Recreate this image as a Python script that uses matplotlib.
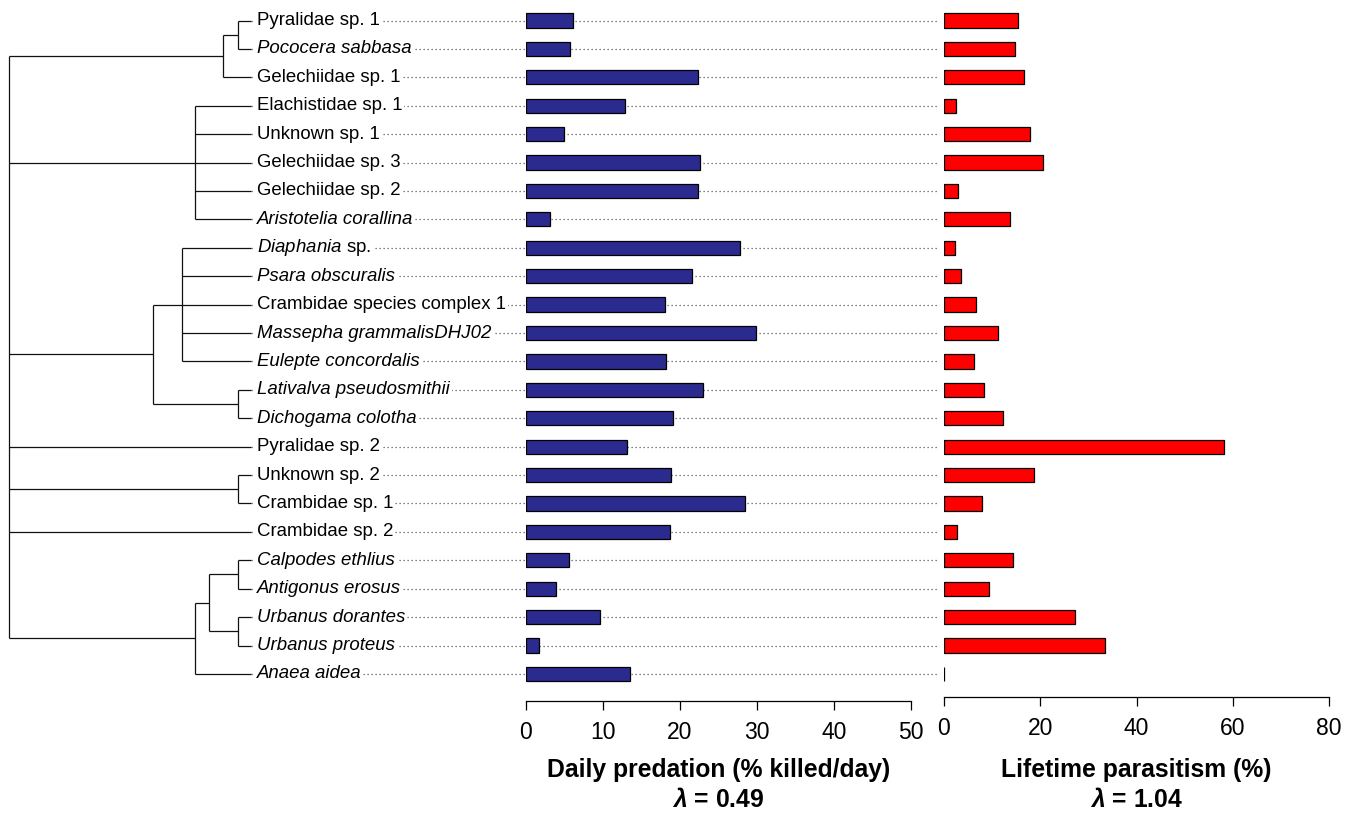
import matplotlib
matplotlib.use("Agg")
import matplotlib.pyplot as plt
import matplotlib.transforms as mtransforms

plt.rcParams['font.family'] = ['Liberation Sans', 'DejaVu Sans']
plt.rcParams['mathtext.fontset'] = 'custom'
plt.rcParams['mathtext.rm'] = 'Liberation Sans'
plt.rcParams['mathtext.it'] = 'Liberation Sans:italic'
plt.rcParams['mathtext.bf'] = 'Liberation Sans:bold'
plt.rcParams['mathtext.bfit'] = 'Liberation Sans:italic:bold'

# species in plotting order (top to bottom)
species = [
    "Pyralidae sp. 1", "Pococera sabbasa", "Gelechiidae sp. 1",
    "Elachistidae sp. 1", "Unknown sp. 1", "Gelechiidae sp. 3",
    "Gelechiidae sp. 2", "Aristotelia corallina", r"$\mathit{Diaphania}$ sp.",
    "Psara obscuralis", "Crambidae species complex 1", "Massepha grammalisDHJ02",
    "Eulepte concordalis", "Lativalva pseudosmithii", "Dichogama colotha",
    "Pyralidae sp. 2", "Unknown sp. 2", "Crambidae sp. 1", "Crambidae sp. 2",
    "Calpodes ethlius", "Antigonus erosus", "Urbanus dorantes",
    "Urbanus proteus", "Anaea aidea",
]
italic = [False, True, False, False, False, False, False, True, False,
          True, False, True, True, True, True, False, False, False, False,
          True, True, True, True, True]

predation = [6.1, 5.7, 22.3, 12.9, 5.0, 22.6, 22.4, 3.1, 27.8, 21.5, 18.0,
             29.9, 18.2, 23.0, 19.1, 13.2, 18.9, 28.4, 18.7, 5.6, 3.9, 9.6,
             1.7, 13.5]
parasitism = [15.4, 14.8, 16.7, 2.5, 17.9, 20.6, 3.0, 13.8, 2.3, 3.5, 6.7,
              11.2, 6.3, 8.4, 12.2, 58.1, 18.8, 7.8, 2.8, 14.3, 9.4, 27.3,
              33.4, 0.0]

pred_ticks = [0, 10, 20, 30, 40, 50]
para_ticks = [0, 20, 40, 60, 80]
pred_lambda = "0.49"
para_lambda = "1.04"

# tree: (node depth, children); ints are tips (row index), root depth 0, tips 1
tree = (0.0, [
    (0.883, [(0.945, [0, 1]), 2]),
    (0.768, [3, 4, 5, 6, 7]),
    (0.596, [(0.713, [8, 9, 10, 11, 12]), (0.945, [13, 14])]),
    15,
    (0.945, [16, 17]),
    18,
    (0.768, [(0.827, [(0.945, [19, 20]), (0.945, [21, 22])]), 23]),
])

W, H = 1354, 815
fig = plt.figure(figsize=(W / 100, H / 100), dpi=100)

row_top, row_step = 20.5, 28.41
ax_bottom_px = 701
ylim = ((ax_bottom_px - row_top) / row_step, -row_top / row_step)
bottom = 1 - ax_bottom_px / H
height = ax_bottom_px / H

# tree axes spans the full width; x in tree-depth units
root_px, tip_px = 9.3, 251.0
scale = tip_px - root_px
ax_t = fig.add_axes([0, bottom, 1, height])
ax_t.set_xlim(-root_px / scale, (W - root_px) / scale)
ax_t.set_ylim(*ylim)
ax_t.axis('off')

tree_kw = dict(color='#111111', lw=0.9, solid_capstyle='butt', zorder=2)


def draw(node, parent_depth):
    if isinstance(node, int):
        ax_t.plot([parent_depth, 1.0], [node, node], **tree_kw)
        return node
    depth, kids = node
    ys = [draw(k, depth) for k in kids]
    y = (ys[0] + ys[-1]) / 2
    ax_t.plot([depth, depth], [ys[0], ys[-1]], **tree_kw)
    if parent_depth is not None:
        ax_t.plot([parent_depth, depth], [y, y], **tree_kw)
    return y


draw(tree, None)

lead_end = (937 - root_px) / scale
for i, (name, it) in enumerate(zip(species, italic)):
    ax_t.plot([1.0, lead_end], [i, i], color='0.35', lw=0.9,
              ls=(0, (1, 2.2)), zorder=1)
    ax_t.annotate(name, xy=(1.0, i), xytext=(4, 0), textcoords='offset points',
                  ha='left', va='center', fontsize=13.4,
                  fontstyle='italic' if it else 'normal', zorder=3,
                  bbox=dict(boxstyle='square,pad=0.12', fc='white', ec='none'))


def bar_panel(left_px, width_px, values, ticks, color, title, lam, spine_shift):
    ax = fig.add_axes([left_px / W, bottom, width_px / W, height])
    ax.patch.set_alpha(0)
    ax.barh(range(len(values)), values, height=0.5, left=0, color=color,
            edgecolor='black', linewidth=0.9, zorder=3)
    ax.set_xlim(ticks[0], ticks[-1])
    ax.set_ylim(*ylim)
    ax.set_yticks([])
    for s in ['top', 'right', 'left']:
        ax.spines[s].set_visible(False)
    ax.spines['bottom'].set_linewidth(0.9)
    ax.spines['bottom'].set_position(('outward', spine_shift))
    ax.set_xticks(ticks)
    ax.tick_params(axis='x', length=6.5, width=0.9, labelsize=16.5, pad=8)
    tr = mtransforms.blended_transform_factory(ax.transAxes, fig.transFigure)
    ax.text(0.5, 1 - 770 / H, title, transform=tr, ha='center', va='center',
            fontsize=17.8, fontweight='bold')
    ax.text(0.5, 1 - 800 / H, r"$\mathbfit{\lambda}$ = " + lam, transform=tr,
            ha='center', va='center', fontsize=17.8, fontweight='bold')
    return ax


bar_panel(525.7, 385.6, predation, pred_ticks, '#2B2B8F',
          'Daily predation (% killed/day)', pred_lambda, 0)
bar_panel(944.0, 385.0, parasitism, para_ticks, '#FF0000',
          'Lifetime parasitism (%)', para_lambda, -3)

fig.savefig('out.png', dpi=100)
